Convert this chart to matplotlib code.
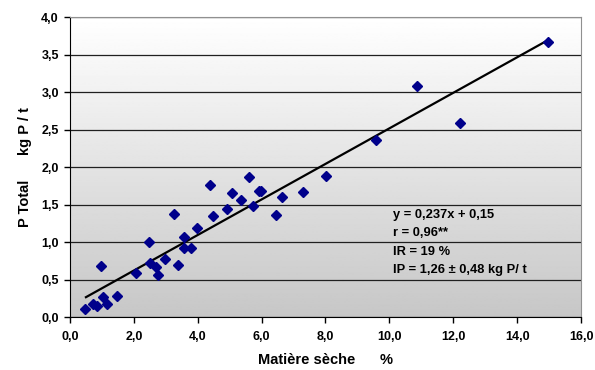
import numpy as np
import matplotlib
matplotlib.use('Agg')
import matplotlib.pyplot as plt
from matplotlib.ticker import FuncFormatter, MultipleLocator

plt.rcParams['font.family'] = ['Liberation Sans', 'DejaVu Sans']

# données
ms = [0.48, 0.73, 0.85, 0.97, 1.04, 1.17, 1.48, 2.08, 2.47, 2.52, 2.68, 2.76,
      2.96, 3.25, 3.37, 3.56, 3.58, 3.80, 3.99, 4.38, 4.48, 4.91, 5.07, 5.36,
      5.59, 5.74, 5.93, 5.98, 6.46, 6.63, 7.29, 8.02, 9.59, 10.88, 12.22, 14.97]
p_total = [0.11, 0.18, 0.15, 0.69, 0.27, 0.18, 0.28, 0.59, 1.00, 0.73, 0.67, 0.56,
           0.78, 1.38, 0.70, 0.92, 1.07, 0.92, 1.19, 1.76, 1.35, 1.45, 1.66, 1.56,
           1.87, 1.48, 1.69, 1.68, 1.37, 1.60, 1.67, 1.88, 2.37, 3.09, 2.59, 3.67]
pente = 0.237
ordonnee = 0.15
x_ligne = [0.5, 15.0]
texte = ['y = 0,237x + 0,15', 'r = 0,96**', 'IR = 19 %', 'IP = 1,26 ± 0,48 kg P/ t']

fig = plt.figure(figsize=(5.95, 3.7), dpi=100)
ax = fig.add_axes([0.1176, 0.1424, 0.8589, 0.8106])

# fond en dégradé
grad = np.linspace(1.0, 0.78, 256).reshape(-1, 1)
ax.imshow(grad, extent=[0, 16, 0, 4], aspect='auto', cmap='gray', vmin=0, vmax=1,
          origin='upper', zorder=0)

ax.set_xlim(0, 16)
ax.set_ylim(0, 4)
ax.yaxis.set_major_locator(MultipleLocator(0.5))
ax.xaxis.set_major_locator(MultipleLocator(2))
fmt = FuncFormatter(lambda v, p: ('%.1f' % v).replace('.', ','))
ax.xaxis.set_major_formatter(fmt)
ax.yaxis.set_major_formatter(fmt)
ax.grid(axis='y', color='#202020', linewidth=0.9, zorder=1)

for s in ['top', 'right']:
    ax.spines[s].set_color('#909090')
ax.spines['left'].set_color('black')
ax.spines['bottom'].set_color('black')
ax.tick_params(direction='out', length=4, width=1, labelsize=9, pad=4)
ax.tick_params(axis='x', pad=6)
for lab in ax.get_xticklabels() + ax.get_yticklabels():
    lab.set_fontweight('bold')

xl = np.array(x_ligne)
ax.plot(xl, pente * xl + ordonnee, color='black', linewidth=1.6, zorder=3)
ax.plot(ms, p_total, linestyle='none', marker='D', markersize=5.5,
        color='#00008b', zorder=4)

ys = [1.36, 1.13, 0.87, 0.63]
for t, yy in zip(texte, ys):
    ax.text(10.1, yy, t, fontsize=9.3, fontweight='bold', va='center', zorder=5)

ax.set_xlabel('Matière sèche      %', fontsize=10.5, fontweight='bold', labelpad=7)
ax.set_ylabel('P Total      kg P / t', fontsize=10.5, fontweight='bold', labelpad=7)

fig.savefig('out.png', dpi=100)
